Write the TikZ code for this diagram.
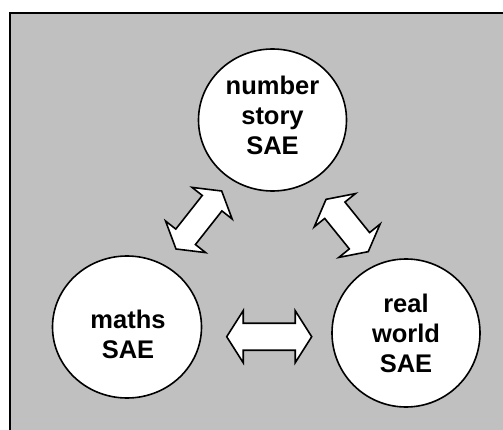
\documentclass[tikz,border=0pt]{standalone}
\usepackage{fontspec}
\setmainfont{Liberation Sans}
\usetikzlibrary{calc,shapes.geometric}
\definecolor{panelgray}{HTML}{C0C0C0}
\tikzset{
  sae/.style={ellipse, draw=black, line width=1.6pt, fill=white, inner sep=0pt},
  saelabel/.style={align=center, inner sep=0pt, font=\fontsize{25.5}{30}\selectfont\bfseries},
  blockarr/.style={draw=black, line width=1.6pt, fill=white, line join=miter},
}
% double block arrow between two named coordinates
% #1 from, #2 to, #3 head half-width, #4 shaft half-width, #5 head length
\newcommand{\dblblockarrow}[5]{%
  \path let \p1=($(#2)-(#1)$), \n1={atan2(\y1,\x1)}, \n2={veclen(\x1,\y1)} in
    \pgfextra{\xdef\arrang{\n1}\xdef\arrlen{\n2}};
  \pgfmathsetmacro{\hl}{\arrlen/2}
  \pgfmathsetmacro{\hb}{\arrlen/2-#5}
  \begin{scope}[shift={($(#1)!0.5!(#2)$)}, rotate=\arrang]
    \draw[blockarr] (-\hl,0) -- (-\hb,#3) -- (-\hb,#4) -- (\hb,#4) -- (\hb,#3)
      -- (\hl,0) -- (\hb,-#3) -- (\hb,-#4) -- (-\hb,-#4) -- (-\hb,-#3) -- cycle;
  \end{scope}
}
\begin{document}
\begin{tikzpicture}[x=1pt,y=-1pt]
  \useasboundingbox (0,0) rectangle (503,430);
  \fill[white] (0,0) rectangle (503,430);
  \clip (0,0) rectangle (503,430);
  \draw[line width=2pt, fill=panelgray] (10,13) rectangle (520,450);

  % circles
  \node[sae, minimum width=148pt, minimum height=142pt] (ns) at (272.5,120) {};
  \node[sae, minimum width=149pt, minimum height=142pt] (ms) at (127,327) {};
  \node[sae, minimum width=148pt, minimum height=148pt] (rw) at (406,333) {};

  % labels
  \node[saelabel] (nsl) at (272.5,115.8) {number\\story\\SAE};
  \node[saelabel] (msl) at (128,334.5) {maths\\SAE};
  \node[saelabel] (rwl) at (406,333.5) {real\\world\\SAE};

  % arrow end points
  \coordinate (ms-ns-a) at (176,249);
  \coordinate (ms-ns-b) at (221.7,191);
  \coordinate (ns-rw-a) at (326,199.3);
  \coordinate (ns-rw-b) at (368.3,251.7);
  \coordinate (ms-rw-a) at (226.7,336.7);
  \coordinate (ms-rw-b) at (311.7,336.7);

  \dblblockarrow{ms-ns-a}{ms-ns-b}{25.5}{12.5}{15.5}
  \dblblockarrow{ns-rw-a}{ns-rw-b}{26.5}{13}{14}
  \dblblockarrow{ms-rw-a}{ms-rw-b}{26}{13.5}{16.5}
\end{tikzpicture}
\end{document}
